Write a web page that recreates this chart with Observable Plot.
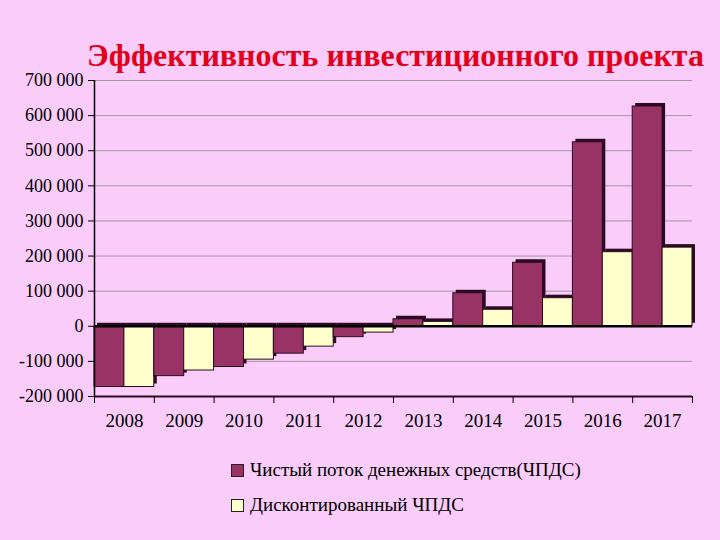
<!DOCTYPE html>
<html>
<head>
<meta charset="utf-8">
<script src="https://cdn.jsdelivr.net/npm/d3@7"></script>
<script src="https://cdn.jsdelivr.net/npm/@observablehq/plot@0.6"></script>
<style>
  html, body { margin: 0; padding: 0; background: #f9ccf9; }
  #wrap { position: relative; width: 720px; height: 540px; background: #f9ccf9; overflow: hidden;
          font-family: "Liberation Serif", "Times New Roman", serif; }
  #title { position: absolute; left: 0; width: 791px; top: 36px; text-align: center;
           color: #e3001b; font-weight: bold; font-size: 32px; line-height: 38px; white-space: nowrap; }
  #chart { position: absolute; left: 0; top: 60px; }
  .leg { position: absolute; left: 231px; font-size: 19px; color: #000; white-space: nowrap; line-height: 20px; }
  .sw { display: inline-block; width: 11px; height: 11px; border: 1px solid #222; margin-right: 6px; vertical-align: -1px; }
</style>
</head>
<body>
<div id="wrap">
  <div id="title">Эффективность инвестиционного проекта</div>
  <div id="chart"></div>
  <div class="leg" style="top:460px"><span class="sw" style="background:#993366"></span><span id="l1"></span></div>
  <div class="leg" style="top:495px"><span class="sw" style="background:#ffffcc"></span><span id="l2"></span></div>
</div>
<script>
const years = [2008, 2009, 2010, 2011, 2012, 2013, 2014, 2015, 2016, 2017];
const seriesNames = ["Чистый поток денежных средств(ЧПДС)", "Дисконтированный ЧПДС"];
const ncf = [-173000, -142000, -116000, -78000, -31000, 20000, 94000, 181000, 524000, 626000];
const dcf = [-173000, -126000, -95000, -58000, -18000, 12500, 47000, 80000, 211000, 224000];
const yTicks = [-200000, -100000, 0, 100000, 200000, 300000, 400000, 500000, 600000, 700000];
const colors = ["#993366", "#ffffcc"];

document.getElementById("l1").textContent = seriesNames[0];
document.getElementById("l2").textContent = seriesNames[1];

const data = [];
years.forEach((yr, i) => {
  data.push({year: yr, series: seriesNames[0], value: ncf[i], x1: yr - 0.5, x2: yr});
  data.push({year: yr, series: seriesNames[1], value: dcf[i], x1: yr, x2: yr + 0.5});
});
const bounds = [years[0] - 0.5, ...years.map(y => y + 0.5)];
const fmt = d3.formatLocale({decimal: ",", thousands: " ", grouping: [3], currency: ["", ""], minus: "-"}).format(",");

const chart = Plot.plot({
  width: 720,
  height: 380,
  marginLeft: 94,
  marginRight: 28,
  marginTop: 20,
  marginBottom: 44,
  style: {background: "transparent", fontFamily: "'Liberation Serif', 'Times New Roman', serif", fontSize: "18px", color: "#000"},
  x: {domain: [bounds[0], bounds[bounds.length - 1]]},
  y: {domain: [yTicks[0], yTicks[yTicks.length - 1]]},
  color: {domain: seriesNames, range: colors},
  marks: [
    Plot.ruleY(yTicks.filter(v => v > yTicks[0]), {stroke: "#a595a5", strokeWidth: 1}),
    Plot.rectY(data, {x1: "x1", x2: "x2", y1: 0, y2: "value", fill: "#2b0a22", dx: 3, dy: -3}),
    Plot.rectY(data, {x1: "x1", x2: "x2", y1: 0, y2: "value", fill: "series", stroke: "#2b0a22", strokeWidth: 1}),
    Plot.ruleY([0], {stroke: "#000", strokeWidth: 2.5}),
    Plot.ruleY([yTicks[0]], {stroke: "#2b0a22", strokeWidth: 2}),
    Plot.ruleX(bounds, {y1: yTicks[0], y2: yTicks[0], insetBottom: -7, stroke: "#000"}),
    Plot.ruleX([bounds[0]], {y1: yTicks[0], y2: yTicks[yTicks.length - 1], stroke: "#000", strokeWidth: 1.5}),
    Plot.axisY({ticks: yTicks, tickFormat: fmt, tickSize: 6, tickPadding: 5, stroke: "#000", fontSize: 18, label: null}),
    Plot.axisX({ticks: years, tickFormat: d => String(d), tickSize: 0, tickPadding: 17, fontSize: 19, letterSpacing: 0.6, label: null})
  ]
});
document.getElementById("chart").appendChild(chart);
</script>
</body>
</html>
